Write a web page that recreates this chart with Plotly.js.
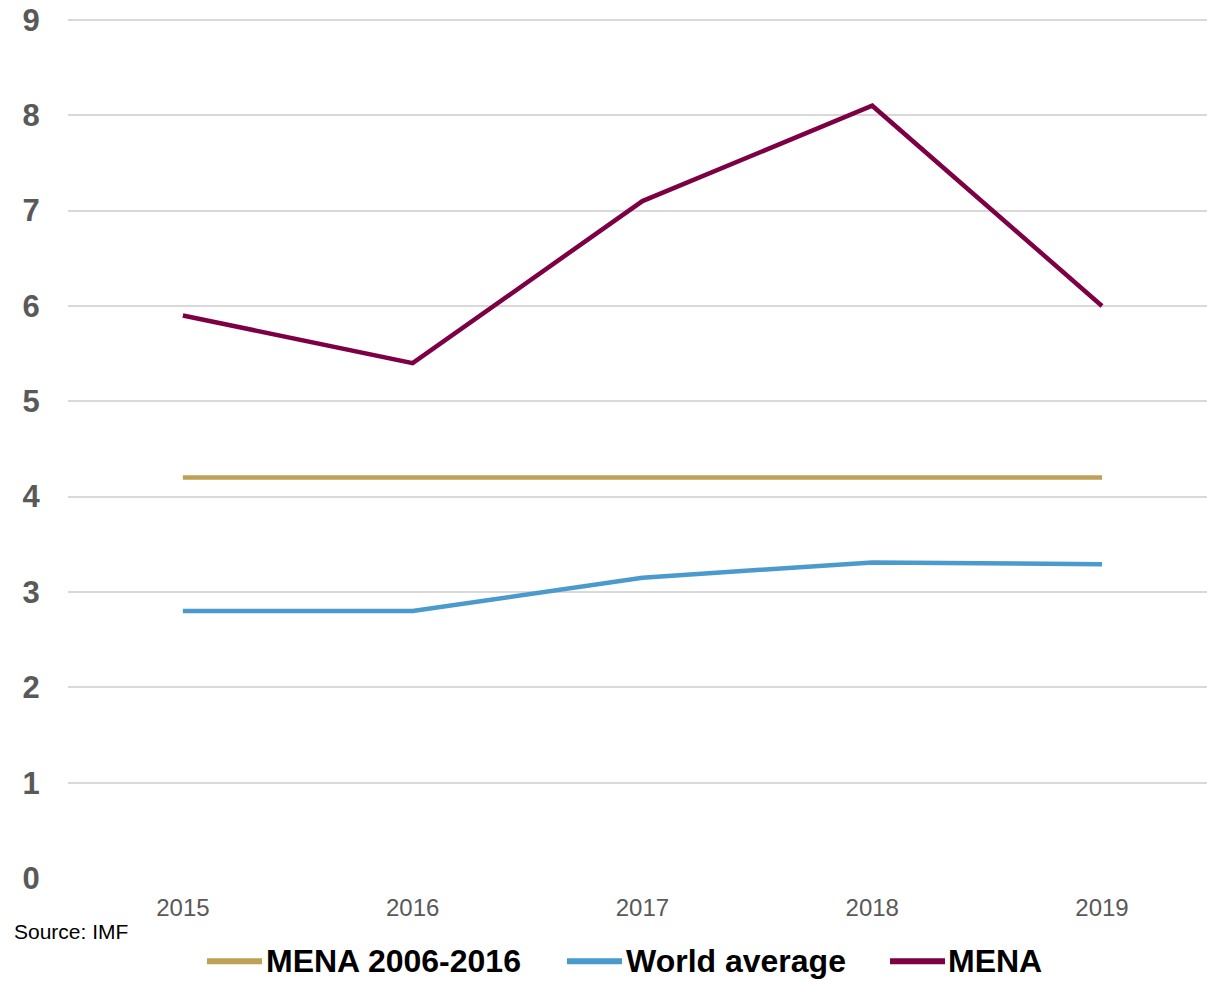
<!DOCTYPE html>
<html>
<head>
<meta charset="utf-8">
<script src="https://cdn.plot.ly/plotly-3.0.1.min.js"></script>
<style>html,body{margin:0;padding:0;background:#fff;}#chart{width:1207px;height:981px;}</style>
</head>
<body>
<div id="chart"></div>
<script>
const years = ["2015", "2016", "2017", "2018", "2019"];
const menaAvg = [4.2, 4.2, 4.2, 4.2, 4.2];
const worldAvg = [2.8, 2.8, 3.15, 3.31, 3.29];
const mena = [5.9, 5.4, 7.1, 8.1, 6.0];
const yTicks = [0, 1, 2, 3, 4, 5, 6, 7, 8, 9];
const seriesNames = ["MENA 2006-2016", "World average", "MENA"];
const seriesColors = ["#BFA155", "#4A9ACD", "#7D0045"];

const FONT = "Arial, 'Liberation Sans', sans-serif";
const values = [menaAvg, worldAvg, mena];
const traces = values.map((v, i) => ({
  x: years, y: v, name: seriesNames[i], type: "scatter", mode: "lines",
  line: {color: seriesColors[i], width: 4.5}
}));

// custom legend (positions in paper coordinates)
const legendX = [[0.1220, 0.1703, 0.1720], [0.4381, 0.4864, 0.4881], [0.7217, 0.7700, 0.7708]];
const legendY = -0.0967;
const shapes = legendX.map((p, i) => ({
  type: "line", xref: "paper", yref: "paper", x0: p[0], x1: p[1], y0: legendY, y1: legendY,
  line: {color: seriesColors[i], width: 6}
}));
const annotations = legendX.map((p, i) => ({
  text: "<b>" + seriesNames[i] + "</b>", xref: "paper", yref: "paper", x: p[2], y: legendY,
  xanchor: "left", yanchor: "middle", showarrow: false,
  font: {size: 32, color: "#000", family: FONT}
}));
annotations.push({text: "Source: IMF", xref: "paper", yref: "paper", x: -0.049, y: -0.0618,
  xanchor: "left", yanchor: "middle", showarrow: false,
  font: {size: 21, color: "#000", family: FONT}});

const layout = {
  width: 1207, height: 981,
  margin: {l: 68, r: 0, t: 18, b: 103},
  paper_bgcolor: "#fff", plot_bgcolor: "#fff",
  font: {family: FONT},
  showlegend: false,
  xaxis: {type: "category", range: [-0.5, 4.457], showgrid: false, zeroline: false, showline: false,
    ticks: "outside", ticklen: 8, tickcolor: "rgba(0,0,0,0)",
    tickfont: {size: 24, color: "#595959"}},
  yaxis: {range: [0, 9.02], tickvals: yTicks, showgrid: true, gridcolor: "#D9D9D9", gridwidth: 2,
    zeroline: false, showline: false,
    ticks: "outside", ticklen: 21, tickcolor: "rgba(0,0,0,0)",
    tickfont: {size: 31, color: "#595959", weight: "bold"}},
  shapes: shapes,
  annotations: annotations
};

Plotly.newPlot("chart", traces, layout, {displayModeBar: false, staticPlot: true});
</script>
</body>
</html>
